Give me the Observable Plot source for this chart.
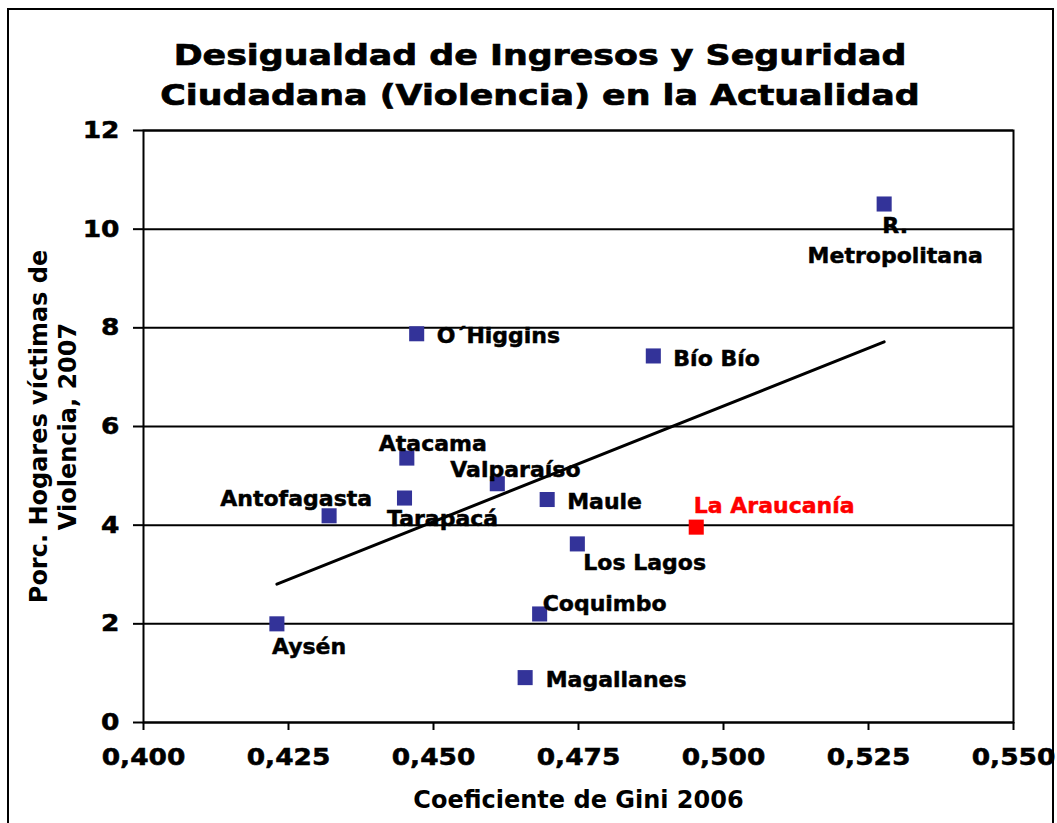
<!DOCTYPE html>
<html>
<head>
<meta charset="utf-8">
<script src="https://cdn.jsdelivr.net/npm/d3@7"></script>
<script src="https://cdn.jsdelivr.net/npm/@observablehq/plot@0.6"></script>
<style>
  html, body { margin: 0; padding: 0; background: #fff; overflow: hidden; }
  #wrap { position: relative; width: 1057px; height: 823px; overflow: hidden; background: #fff; }
  #chart { position: absolute; left: 0; top: 100px; }
  #title { position: absolute; left: 0; top: 35px; width: 1080px; text-align: center;
           font-family: "DejaVu Sans", Verdana, sans-serif; font-weight: bold; font-size: 29px; line-height: 40px; color: #000;
           -webkit-text-stroke: 0.7px #000; }
  #title span { display: block; transform: scaleX(1.2); transform-origin: 540px 0; white-space: nowrap; }
  #border { position: absolute; left: 7px; top: 8px; width: 1047px; height: 900px; border: 2px solid #000; box-sizing: border-box; pointer-events: none; }
</style>
</head>
<body>
<div id="wrap">
  <div id="chart"></div>
  <div id="title"><span>Desigualdad de Ingresos y Seguridad</span><span>Ciudadana (Violencia) en la Actualidad</span></div>
  <div id="border"></div>
</div>
<script>
// ---- data ----
const regions = ["R. Metropolitana", "O´Higgins", "Bío Bío", "Atacama", "Valparaíso", "Antofagasta", "Tarapacá", "Maule", "La Araucanía", "Los Lagos", "Coquimbo", "Aysén", "Magallanes"];
const gini    = [0.5277, 0.4471, 0.4879, 0.4454, 0.4610, 0.4320, 0.4450, 0.4696, 0.4953, 0.4748, 0.4683, 0.4230, 0.4658];
const violencia = [10.51, 7.88, 7.43, 5.36, 4.84, 4.19, 4.55, 4.52, 3.96, 3.62, 2.20, 2.00, 0.91];
const highlighted = ["La Araucanía"];
const xTicks = [0.400, 0.425, 0.450, 0.475, 0.500, 0.525, 0.550];
const yTicks = [0, 2, 4, 6, 8, 10, 12];
const xLabel = "Coeficiente de Gini 2006";
const yLabel = "Porc. Hogares víctimas de\nViolencia, 2007";

const data = regions.map((r, i) => ({region: r, gini: gini[i], v: violencia[i], hi: highlighted.includes(r)}));

// ---- label layout (offsets from each point) ----
const labelLayout = {
  "R. Metropolitana": {text: "R.\nMetropolitana", anchor: "middle", dx: 11, dy: 34.5},
  "O´Higgins":   {anchor: "start", dx: 20, dy: 0},
  "Bío Bío":     {anchor: "start", dx: 20, dy: 0},
  "Atacama":     {anchor: "start", dx: -28, dy: -16.5},
  "Valparaíso":  {anchor: "start", dx: -47, dy: -16},
  "Antofagasta": {anchor: "end",   dx: 43, dy: -19},
  "Tarapacá":    {anchor: "start", dx: -17.5, dy: 18},
  "Maule":       {anchor: "start", dx: 20, dy: 0},
  "La Araucanía":{anchor: "start", dx: -2.5, dy: -23.5},
  "Los Lagos":   {anchor: "start", dx: 6, dy: 17},
  "Coquimbo":    {anchor: "start", dx: 3, dy: -13},
  "Aysén":       {anchor: "start", dx: -5, dy: 21},
  "Magallanes":  {anchor: "start", dx: 20.5, dy: 0}
};

const BLUE = "#333399", RED = "#FF0000";
const fmt = d => d3.format(".3f")(d).replace(".", ",");

const labelMarks = data.map(d => {
  const L = labelLayout[d.region];
  return Plot.text([d], {
    x: "gini", y: "v",
    text: () => L.text || d.region,
    textAnchor: L.anchor, dx: L.dx, dy: L.dy,
    lineHeight: 1.36,
    fill: d.hi ? RED : "#000",
    stroke: d.hi ? RED : "#000", strokeWidth: 0.5,
    fontSize: 22, fontWeight: "bold"
  });
});

const chart = Plot.plot({
  width: 1057, height: 723,
  marginLeft: 143, marginRight: 44, marginTop: 30, marginBottom: 101,
  x: {domain: [0.4, 0.55]},
  y: {domain: [0, 12]},
  style: {fontFamily: "'DejaVu Sans', Verdana, sans-serif", fontWeight: "bold", background: "transparent", color: "black", overflow: "visible"},
  marks: [
    Plot.gridY(yTicks, {stroke: "#000", strokeOpacity: 1, strokeWidth: 2}),
    Plot.frame({stroke: "#000", strokeWidth: 2}),
    Plot.axisY(yTicks, {tickSize: 10, tickPadding: 14, strokeWidth: 2, fontSize: 23, fontWeight: "bold", label: null}),
    Plot.axisX(xTicks, {tickSize: 8, tickPadding: 18, strokeWidth: 2, fontSize: 23, fontWeight: "bold", label: null, tickFormat: fmt}),
    Plot.linearRegressionY(data, {x: "gini", y: "v", stroke: "#000", strokeWidth: 3, ci: 0}),
    Plot.dot(data, {x: "gini", y: "v", symbol: "square", r: 8.5, fill: d => d.hi ? RED : BLUE, stroke: null}),
    ...labelMarks,
    Plot.text([yLabel], {ariaLabel: "y-title", frameAnchor: "left", textAnchor: "middle", lineAnchor: "middle", rotate: -90, dx: -91, lineHeight: 1.17, fontSize: 24, fontWeight: "bold"}),
    Plot.text([xLabel], {ariaLabel: "x-title", frameAnchor: "bottom", textAnchor: "middle", lineAnchor: "middle", dy: 78, fontSize: 24, fontWeight: "bold"})
  ]
});
document.getElementById("chart").appendChild(chart);

// horizontal stretch (around each text's anchor) and slight extra weight to match the heavy, wide reference face
function stretch(sel, f) {
  chart.querySelectorAll(sel).forEach(t => {
    const x = +t.getAttribute("x") || 0;
    const prev = t.getAttribute("transform") || "";
    t.setAttribute("transform", `${prev} translate(${x},0) scale(${f},1) translate(${-x},0)`);
    t.setAttribute("stroke", "#000");
    t.setAttribute("stroke-width", "0.5");
  });
}
stretch('g[aria-label="y-axis tick label"] text', 1.15);
stretch('g[aria-label="x-axis tick label"] text', 1.15);
stretch('g[aria-label="x-title"] text', 1.05);
stretch('g[aria-label="y-title"] text', 1.07);
</script>
</body>
</html>
